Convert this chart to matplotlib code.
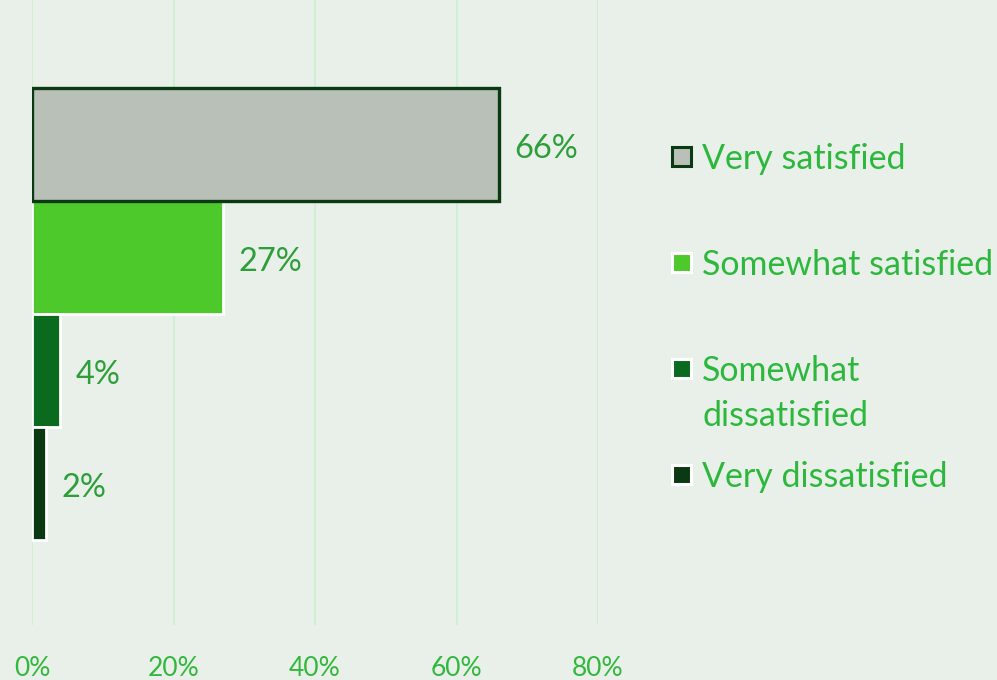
import matplotlib
matplotlib.use("Agg")
import matplotlib.pyplot as plt
from matplotlib.patches import Rectangle

categories = ["Very satisfied", "Somewhat satisfied", "Somewhat\ndissatisfied", "Very dissatisfied"]
values = [66, 27, 4, 2]
xticks = [0, 20, 40, 60, 80]
xtick_labels = ["0%", "20%", "40%", "60%", "80%"]

fill_colors = ["#B9C0B8", "#4DC92B", "#0A6B1E", "#0B3A12"]
edge_colors = ["#0B3A12", "#FFFFFF", "#FFFFFF", "#FFFFFF"]
edge_widths = [2.4, 2.0, 2.0, 2.0]

BG = "#E8F0E9"
GRID = "#CDEFD0"
LABEL_C = "#2E9E3A"
TICK_C = "#33B83D"
LEG_C = "#2DB83D"
FONT = ["Lato", "DejaVu Sans"]

W, H = 997, 680
fig = plt.figure(figsize=(W / 100, H / 100), dpi=100, facecolor=BG)
ax = fig.add_axes([32 / W, 1 - 625 / H, (598 - 32) / W, 625 / H])
ax.set_facecolor(BG)

ypos = list(range(len(values)))
bars = ax.barh(ypos, values, height=1.0, color=fill_colors,
               edgecolor=edge_colors, linewidth=edge_widths, zorder=3)
bars[0].set_zorder(4)

ax.set_xlim(0, 80)
ax.set_ylim(4.248, -1.283)
ax.set_xticks(xticks)
ax.set_xticklabels(xtick_labels, fontsize=19, color=TICK_C, family=FONT)
ax.tick_params(axis="x", length=0, pad=22)
ax.set_yticks([])
ax.grid(axis="x", color=GRID, linewidth=1.3, zorder=0)
for s in ax.spines.values():
    s.set_visible(False)

for y, v in zip(ypos, values):
    ax.annotate(f"{v}%", xy=(v, y), xytext=(11, -3), textcoords="offset points",
                ha="left", va="center", fontsize=23.5, color=LABEL_C, family=FONT)

# manual legend
leg_y = [156, 262, 368, 474]
line_gap = 45
for (lab, fc, ec, y) in zip(categories, fill_colors, edge_colors, leg_y):
    sz = 19
    fig.patches.append(Rectangle(((681 - sz / 2) / W, 1 - (y + sz / 2) / H), sz / W, sz / H,
                                 transform=fig.transFigure, facecolor=fc, edgecolor=ec,
                                 linewidth=2.2))
    for i, line in enumerate(lab.split("\n")):
        fig.text(702 / W, 1 - (y + i * line_gap) / H, line, ha="left",
                 va="center_baseline", fontsize=24.5, color=LEG_C, family=FONT)

fig.savefig("out.png", dpi=100, facecolor=BG)
